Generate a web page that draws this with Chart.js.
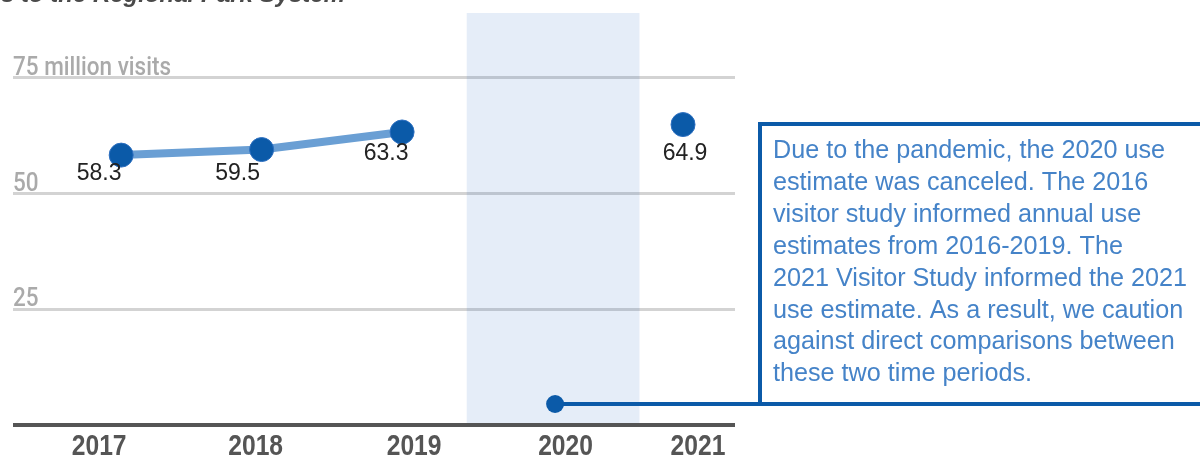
<!DOCTYPE html>
<html>
<head>
<meta charset="utf-8">
<script src="https://cdn.jsdelivr.net/npm/chart.js@4.4.1/dist/chart.umd.min.js"></script>
<style>
  html, body { margin: 0; padding: 0; background: #fff; }
  #wrap { width: 1200px; height: 455px; }
</style>
</head>
<body>
<div id="wrap"><canvas id="chart" width="1200" height="455"></canvas></div>
<script>
const titulo = 'Annual visits to the Regional Park System';
const anos = [2017, 2018, 2019, 2020, 2021];
const visitas = [58.3, 59.5, 63.3, null, 64.9];
const rotulosY = [0, 25, 50, 75];
const textoRotuloY = { 75: '75 million visits', 50: '50', 25: '25' };
const nota = [
  'Due to the pandemic, the 2020 use',
  'estimate was canceled. The 2016',
  'visitor study informed annual use',
  'estimates from 2016-2019. The',
  '2021 Visitor Study informed the 2021',
  'use estimate. As a result, we caution',
  'against direct comparisons between',
  'these two time periods.'
];

const azul = '#0b5aa8';
const fonte = '"Liberation Sans", Arial, sans-serif';

// texto "condensado": escala horizontal
function textoEstreito(ctx, txt, x, y, escala, alinh) {
  const w = ctx.measureText(txt).width * escala;
  let x0 = x;
  if (alinh === 'center') x0 = x - w / 2;
  ctx.save();
  ctx.translate(x0, y);
  ctx.scale(escala, 1);
  ctx.textAlign = 'left';
  ctx.fillText(txt, 0, 0);
  ctx.restore();
}

const extras = {
  id: 'extras',
  beforeDatasetsDraw(chart) {
    const { ctx, chartArea, scales } = chart;
    // faixa de 2020
    const x1 = scales.x.getPixelForValue(2019.46);
    const x2 = scales.x.getPixelForValue(2020.69);
    ctx.save();
    ctx.fillStyle = 'rgba(0, 75, 185, 0.1)';
    ctx.fillRect(x1, chartArea.top, x2 - x1, chartArea.bottom - chartArea.top - 2);
    ctx.restore();
  },
  afterDraw(chart) {
    const { ctx, chartArea, scales } = chart;
    ctx.save();
    ctx.textBaseline = 'alphabetic';

    // titulo cortado no topo
    ctx.font = 'italic bold 24px ' + fonte;
    ctx.fillStyle = '#4a4a4a';
    ctx.textAlign = 'right';
    ctx.fillText(titulo, 345, 2);

    // rotulos do eixo y
    ctx.font = '500 25px Roboto, ' + fonte;
    ctx.fillStyle = '#aaaaaa';
    const escY = 158 / ctx.measureText(textoRotuloY[75]).width;
    rotulosY.forEach(v => {
      if (!textoRotuloY[v]) return;
      const y = scales.y.getPixelForValue(v);
      textoEstreito(ctx, textoRotuloY[v], chartArea.left, y - 3, escY, 'left');
    });

    // rotulos do eixo x
    const dxAno = [-22, -6, 12, 23, 15];
    ctx.font = 'bold 29px ' + fonte;
    ctx.fillStyle = '#555';
    anos.forEach((a, i) => {
      textoEstreito(ctx, String(a), scales.x.getPixelForValue(a) + dxAno[i], chartArea.bottom + 30, 0.85, 'center');
    });

    // rotulos dos pontos
    const dx = [-22, -24, -16, 0, 2];
    const dy = [19, 24, 22, 0, 29];
    ctx.font = '23px ' + fonte;
    ctx.fillStyle = '#222';
    ctx.textAlign = 'center';
    ctx.textBaseline = 'middle';
    const meta = chart.getDatasetMeta(0);
    meta.data.forEach((pt, i) => {
      if (visitas[i] == null) return;
      ctx.fillText(visitas[i].toFixed(1), pt.x + dx[i], pt.y + dy[i]);
    });

    // marcador 2020 e caixa da nota
    const xb = (scales.x.getPixelForValue(2019.46) + scales.x.getPixelForValue(2020.69)) / 2 + 2;
    const yb = chartArea.bottom - 21;
    const caixaX = chartArea.right + 25;
    const caixaY = 124;
    ctx.strokeStyle = azul;
    ctx.lineWidth = 4;
    ctx.beginPath();
    ctx.moveTo(xb, yb);
    ctx.lineTo(1200, yb);
    ctx.moveTo(caixaX, yb);
    ctx.lineTo(caixaX, caixaY);
    ctx.lineTo(1200, caixaY);
    ctx.stroke();
    ctx.fillStyle = azul;
    ctx.beginPath();
    ctx.ellipse(xb, yb, 9, 9, 0, 0, Math.PI * 2);
    ctx.fill();

    ctx.fillStyle = '#4583c8';
    ctx.textAlign = 'left';
    ctx.textBaseline = 'alphabetic';
    ctx.font = '100px ' + fonte;
    const larg = ctx.measureText(nota[6]).width;
    const tam = 100 * 402 / larg;
    ctx.font = tam.toFixed(1) + 'px ' + fonte;
    nota.forEach((linha, i) => {
      ctx.fillText(linha, caixaX + 13, 158 + i * 31.9);
    });

    ctx.restore();
  }
};

new Chart(document.getElementById('chart'), {
  type: 'line',
  data: {
    datasets: [{
      data: anos.map((a, i) => ({ x: a, y: visitas[i] })),
      borderColor: '#6a9fd4',
      borderWidth: 8,
      spanGaps: false,
      tension: 0,
      pointRadius: 12,
      pointHoverRadius: 12,
      pointBackgroundColor: azul,
      pointBorderColor: '#2d6fc0',
      pointBorderWidth: 1
    }]
  },
  options: {
    responsive: false,
    animation: false,
    events: [],
    layout: { padding: { left: 12, right: 465, top: 13, bottom: 30 } },
    plugins: { legend: { display: false }, tooltip: { enabled: false } },
    scales: {
      x: {
        type: 'linear',
        display: false,
        min: anos[0] - 0.77,
        max: anos[anos.length - 1] + 0.37
      },
      y: {
        min: 0,
        max: 89,
        afterBuildTicks: axis => { axis.ticks = rotulosY.map(v => ({ value: v })); },
        border: { display: false },
        grid: {
          drawTicks: false,
          color: c => c.tick.value === 0 ? '#555' : '#d3d3d3',
          lineWidth: c => c.tick.value === 0 ? 4 : 3
        },
        ticks: { display: false }
      }
    }
  },
  plugins: [extras]
});
</script>
</body>
</html>
